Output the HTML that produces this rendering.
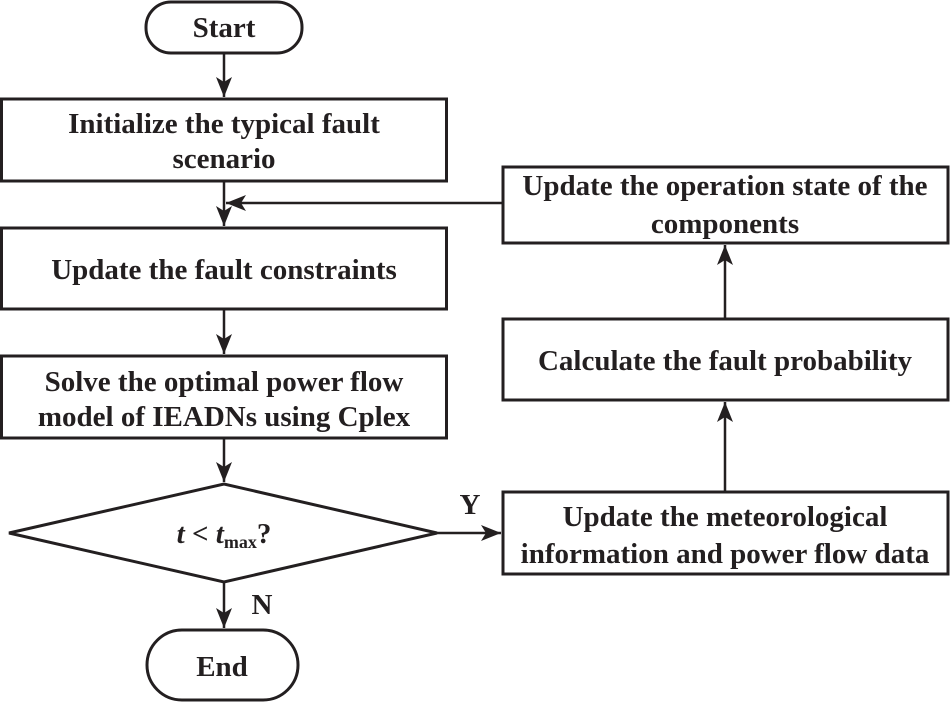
<!DOCTYPE html>
<html><head><meta charset="utf-8"><style>
html,body{margin:0;padding:0;background:#fff;width:950px;height:702px;overflow:hidden}
</style></head><body>
<svg width="950" height="702" viewBox="0 0 950 702" xmlns="http://www.w3.org/2000/svg">
<defs>
<marker id="b" viewBox="0 0 20 16" markerWidth="20" markerHeight="16" refX="20" refY="8" orient="auto" markerUnits="userSpaceOnUse"><path d="M0,0 L20,8 L0,16 L5,8 z" fill="#231f20"/></marker></defs>
<g fill="none" stroke="#231f20" stroke-width="3">
<rect x="146" y="2" width="156" height="51" rx="25"/>
<rect x="1.5" y="99" width="445" height="82"/>
<rect x="1.5" y="228" width="445" height="81"/>
<rect x="1.5" y="356" width="445" height="82"/>
<polygon points="9,533 224,484 437,533 224,582"/>
<rect x="147" y="630" width="151" height="70" rx="35"/>
<rect x="503" y="167" width="445" height="76"/>
<rect x="503" y="319" width="445" height="81"/>
<rect x="503" y="492" width="445" height="82"/>
</g>
<g stroke="#231f20" stroke-width="2.5" fill="none">
<line x1="224" y1="53" x2="224" y2="97" marker-end="url(#b)"/>
<line x1="224" y1="181" x2="224" y2="226" marker-end="url(#b)"/>
<line x1="502" y1="203" x2="226" y2="203" marker-end="url(#b)"/>
<line x1="224" y1="309" x2="224" y2="354" marker-end="url(#b)"/>
<line x1="224" y1="438" x2="224" y2="482" marker-end="url(#b)"/>
<line x1="224" y1="582" x2="224" y2="628" marker-end="url(#b)"/>
<line x1="437" y1="533" x2="501" y2="533" marker-end="url(#b)"/>
<line x1="725" y1="492" x2="725" y2="402" marker-end="url(#b)"/>
<line x1="725" y1="319" x2="725" y2="245" marker-end="url(#b)"/>
</g>
<g text-anchor="middle" font-family="'Liberation Serif', 'DejaVu Serif', serif" font-weight="bold" font-size="29" fill="#231f20" style="font-family:'Liberation Serif','DejaVu Serif',serif">
<text x="224" y="133">Initialize the typical fault</text>
<text x="224" y="168">scenario</text>
<text x="224" y="37">Start</text>
<text x="224" y="279">Update the fault constraints</text>
<text x="224" y="391">Solve the optimal power flow</text>
<text x="224" y="426">model of IEADNs using Cplex</text>
<text x="224" y="543"><tspan font-style="italic">t</tspan> &lt; <tspan font-style="italic">t</tspan><tspan font-size="18" dy="5">max</tspan><tspan dy="-5">?</tspan></text>
<text x="222" y="676">End</text>
<text x="725" y="195">Update the operation state of the</text>
<text x="725" y="233">components</text>
<text x="725" y="370">Calculate the fault probability</text>
<text x="725" y="526">Update the meteorological</text>
<text x="725" y="563">information and power flow data</text>
<text x="470" y="514">Y</text>
<text x="262" y="614">N</text>
</g>
</svg>
</body></html>
